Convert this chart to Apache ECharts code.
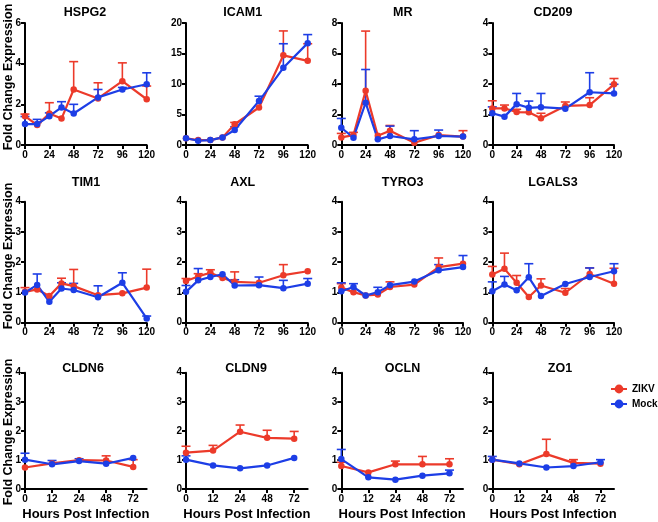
<!DOCTYPE html>
<html><head><meta charset="utf-8">
<script src="https://cdn.jsdelivr.net/npm/echarts@6/dist/echarts.min.js"></script>
<style>html,body{margin:0;padding:0;background:#fff}#c{width:658px;height:522px}</style>
</head><body><div id="c"></div>
<script>
// ---- data ----
const hoursLong = [0, 12, 24, 36, 48, 72, 96, 120];
const hoursShort = ['0', '12', '24', '48', '72'];

const genes = ['HSPG2','ICAM1','MR','CD209','TIM1','AXL','TYRO3','LGALS3','CLDN6','CLDN9','OCLN','ZO1'];
const yMax = [6, 20, 8, 4, 4, 4, 4, 4, 4, 4, 4, 4];
const yStep = [2, 5, 2, 1, 1, 1, 1, 1, 1, 1, 1, 1];
const yTitle = 'Fold Change Expression';
const xTitle = 'Hours Post Infection';
const legendNames = ['ZIKV', 'Mock'];

const HSPG2_zikv = [1.42,0.98,1.55,1.3,2.73,2.29,3.14,2.25];
const HSPG2_zikvErr = [0.1,0.12,0.53,0,1.37,0.77,0.9,0.65];
const HSPG2_mock = [1.03,1.03,1.42,1.85,1.55,2.34,2.73,2.99];
const HSPG2_mockErr = [0.37,0.23,0.16,0.28,0.45,0.39,0.1,0.56];

const ICAM1_zikv = [1.1,0.8,0.8,1.25,3.4,6.15,14.7,13.8];
const ICAM1_zikvErr = [0,0,0,0,0.3,0,4.0,2.8];
const ICAM1_mock = [1.1,0.7,0.8,1.25,2.45,7.2,12.65,16.7];
const ICAM1_mockErr = [0,0,0,0,0.55,0.8,3.95,1.4];

const MR_zikv = [0.5,0.65,3.55,0.6,0.94,0.15,0.65,0.55];
const MR_zikvErr = [0.26,0.18,3.92,0,0.34,0,0,0.39];
const MR_mock = [1.13,0.48,2.77,0.37,0.59,0.37,0.59,0.55];
const MR_mockErr = [0.61,0,2.18,0,0.65,0.57,0.39,0];

const CD209_zikv = [1.2,1.2,1.08,1.07,0.88,1.28,1.31,1.99];
const CD209_zikvErr = [0.25,0.11,0.09,0,0.16,0.13,0.24,0.19];
const CD209_mock = [1.04,0.93,1.34,1.22,1.24,1.19,1.73,1.69];
const CD209_mockErr = [0.21,0,0.35,0.22,0.45,0,0.64,0.3];

const TIM1_zikv = [1.02,1.1,0.88,1.3,1.21,0.91,0.97,1.16];
const TIM1_zikvErr = [0.14,0,0,0.17,0.55,0,0,0.61];
const TIM1_mock = [1.0,1.25,0.69,1.13,1.08,0.84,1.32,0.14];
const TIM1_mockErr = [0,0.36,0,0.19,0.22,0.38,0.33,0.08];

const AXL_zikv = [1.38,1.53,1.65,1.48,1.35,1.32,1.57,1.7];
const AXL_zikvErr = [0.08,0.09,0.1,0,0.33,0,0.35,0];
const AXL_mock = [1.02,1.4,1.51,1.6,1.23,1.24,1.14,1.29];
const AXL_mockErr = [0.21,0.39,0,0,0.19,0.27,0.26,0.17];

const TYRO3_zikv = [1.16,1.01,0.9,0.93,1.18,1.26,1.84,1.95];
const TYRO3_zikvErr = [0.13,0,0,0,0.17,0,0.3,0];
const TYRO3_mock = [1.04,1.18,0.9,1.01,1.24,1.36,1.73,1.84];
const TYRO3_mockErr = [0.28,0.11,0,0.16,0,0,0.19,0.38];

const LGALS3_zikv = [1.59,1.78,1.32,0.85,1.23,0.99,1.61,1.29];
const LGALS3_zikvErr = [0.27,0.52,0.24,0,0.22,0.14,0.2,0.51];
const LGALS3_mock = [1.04,1.26,1.07,1.5,0.88,1.28,1.51,1.7];
const LGALS3_mockErr = [0.31,0.27,0,0.45,0,0,0.3,0.25];

const CLDN6_zikv = [0.74,0.88,0.99,0.98,0.76];
const CLDN6_zikvErr = [0,0,0,0.16,0.25];
const CLDN6_mock = [1.01,0.85,0.96,0.87,1.07];
const CLDN6_mockErr = [0.22,0.13,0.08,0,0];

const CLDN9_zikv = [1.25,1.32,1.97,1.76,1.73];
const CLDN9_zikvErr = [0.22,0.18,0.23,0.26,0.25];
const CLDN9_mock = [1.01,0.81,0.71,0.81,1.07];
const CLDN9_mockErr = [0.13,0,0,0,0];

const OCLN_zikv = [0.79,0.57,0.85,0.85,0.85];
const OCLN_zikvErr = [0.13,0,0.11,0.27,0.19];
const OCLN_mock = [1.03,0.4,0.32,0.46,0.54];
const OCLN_mockErr = [0.33,0,0,0,0.11];

const ZO1_zikv = [1.01,0.85,1.2,0.9,0.87];
const ZO1_zikvErr = [0,0,0.51,0.11,0];
const ZO1_mock = [1.01,0.88,0.74,0.79,0.92];
const ZO1_mockErr = [0.11,0,0,0,0.09];

// significance labels: [x, y, text]
const TIM1_stars = [[120, 1.94, '**']];
const CLDN9_stars = [[1, 1.69, '**'], [2, 2.38, '****'], [3, 2.19, '****'], [4, 2.15, '***']];

const zikv = [HSPG2_zikv,ICAM1_zikv,MR_zikv,CD209_zikv,TIM1_zikv,AXL_zikv,TYRO3_zikv,LGALS3_zikv,CLDN6_zikv,CLDN9_zikv,OCLN_zikv,ZO1_zikv];
const zikvErr = [HSPG2_zikvErr,ICAM1_zikvErr,MR_zikvErr,CD209_zikvErr,TIM1_zikvErr,AXL_zikvErr,TYRO3_zikvErr,LGALS3_zikvErr,CLDN6_zikvErr,CLDN9_zikvErr,OCLN_zikvErr,ZO1_zikvErr];
const mock = [HSPG2_mock,ICAM1_mock,MR_mock,CD209_mock,TIM1_mock,AXL_mock,TYRO3_mock,LGALS3_mock,CLDN6_mock,CLDN9_mock,OCLN_mock,ZO1_mock];
const mockErr = [HSPG2_mockErr,ICAM1_mockErr,MR_mockErr,CD209_mockErr,TIM1_mockErr,AXL_mockErr,TYRO3_mockErr,LGALS3_mockErr,CLDN6_mockErr,CLDN9_mockErr,OCLN_mockErr,ZO1_mockErr];

// ---- layout ----
const RED = '#ec3a2a', BLUE = '#1d3ee6';
const FONT = '"Liberation Sans", Arial, sans-serif';
const colLeft = [25, 186, 341.3, 492.3];
const plotW = 121.7;
const rowTop = [23, 201.7, 372.7];
const rowH = [122, 121, 121.3];
const titleX = [[85, 242.7, 402.7, 553], [86, 242.7, 402.7, 553], [83, 246, 402.5, 560]];
const titleY = [13, 183, 369];

const grids = [], xAxes = [], yAxes = [], series = [], graphics = [];
const axisLine = { show: true, lineStyle: { color: '#000', width: 2 } };
const axisTick = { show: true, length: 4, lineStyle: { color: '#000', width: 2 } };
const labelStyle = { color: '#000', fontWeight: 'bold', fontSize: 10, fontFamily: FONT };

function errItem(color) {
  return function (params, api) {
    const e = api.value(2);
    if (!e) return null;
    const x = api.value(0), y = api.value(1);
    const p0 = api.coord([x, y]);
    const p1 = api.coord([x, y + e]);
    return {
      type: 'group',
      children: [
        { type: 'line', shape: { x1: p0[0], y1: p0[1], x2: p1[0], y2: p1[1] }, style: { stroke: color, lineWidth: 1.6 } },
        { type: 'line', shape: { x1: p1[0] - 4.5, y1: p1[1], x2: p1[0] + 4.5, y2: p1[1] }, style: { stroke: color, lineWidth: 1.6 } }
      ]
    };
  };
}

for (let i = 0; i < 12; i++) {
  const r = Math.floor(i / 4), c = i % 4;
  grids.push({ left: colLeft[c], top: rowTop[r], width: plotW, height: rowH[r], containLabel: false });
  graphics.push({ type: 'text', x: titleX[r][c], y: titleY[r], silent: true,
    style: { text: genes[i], fontSize: 12.5, fontWeight: 'bold', fill: '#000', fontFamily: FONT,
      textAlign: 'center', textVerticalAlign: 'middle' } });
  const longX = r < 2;
  const xs = longX ? hoursLong : hoursShort.map((_, k) => k);
  if (longX) {
    xAxes.push({ type: 'value', gridIndex: i, min: 0, max: 120, interval: 24,
      axisLine, axisTick, splitLine: { show: false },
      axisLabel: Object.assign({ margin: 5 }, labelStyle) });
  } else {
    xAxes.push({ type: 'value', gridIndex: i, min: 0, max: 4.5,
      axisLine, splitLine: { show: false },
      axisTick: Object.assign({ customValues: [0, 1, 2, 3, 4] }, axisTick),
      axisLabel: Object.assign({ margin: 5, customValues: [0, 1, 2, 3, 4], formatter: v => hoursShort[Math.round(v)] }, labelStyle),
      name: xTitle, nameLocation: 'middle', nameGap: 19,
      nameTextStyle: { fontSize: 13, fontWeight: 'bold', color: '#000', fontFamily: FONT } });
  }
  yAxes.push({ type: 'value', gridIndex: i, min: 0, max: yMax[i], interval: yStep[i],
    axisLine, axisTick, splitLine: { show: false },
    axisLabel: Object.assign({ margin: 4 }, labelStyle) });

  series.push({ type: 'custom', xAxisIndex: i, yAxisIndex: i, renderItem: errItem(RED),
    data: xs.map((x, k) => [x, zikv[i][k], zikvErr[i][k]]), encode: { x: 0, y: 1 }, silent: true });
  series.push({ type: 'line', name: legendNames[0], xAxisIndex: i, yAxisIndex: i, data: xs.map((x, k) => [x, zikv[i][k]]),
    symbol: 'circle', symbolSize: 6.5, lineStyle: { color: RED, width: 2.2 }, itemStyle: { color: RED } });
  series.push({ type: 'custom', xAxisIndex: i, yAxisIndex: i, renderItem: errItem(BLUE),
    data: xs.map((x, k) => [x, mock[i][k], mockErr[i][k]]), encode: { x: 0, y: 1 }, silent: true });
  series.push({ type: 'line', name: legendNames[1], xAxisIndex: i, yAxisIndex: i, data: xs.map((x, k) => [x, mock[i][k]]),
    symbol: 'circle', symbolSize: 6.5, lineStyle: { color: BLUE, width: 2.2 }, itemStyle: { color: BLUE } });
}

function starSeries(idx, stars) {
  return { type: 'scatter', xAxisIndex: idx, yAxisIndex: idx, symbolSize: 1,
    itemStyle: { opacity: 0 },
    data: stars.map(s => ({ value: [s[0], s[1]], label: { formatter: s[2] } })),
    label: { show: true, position: 'inside', color: '#222', fontSize: 9, fontWeight: 'bold', fontFamily: FONT } };
}
series.push(starSeries(4, TIM1_stars));
series.push(starSeries(9, CLDN9_stars));

const rowCenters = [77, 256, 432];
rowCenters.forEach(cy => graphics.push({ type: 'text', x: 9, y: cy, rotation: Math.PI / 2, silent: true,
  style: { text: yTitle, fontSize: 12.5, fontWeight: 'bold', fill: '#000', fontFamily: FONT,
    textAlign: 'center', textVerticalAlign: 'middle' } }));

const chart = echarts.init(document.getElementById('c'), null, { renderer: 'canvas' });
chart.setOption({
  animation: false,
  grid: grids, xAxis: xAxes, yAxis: yAxes, series,
  graphic: graphics,
  legend: { data: legendNames, orient: 'vertical', left: 610, top: 384, itemGap: 5, padding: 0,
    itemWidth: 16, itemHeight: 11, textStyle: { fontSize: 10, fontWeight: 'bold', color: '#000', fontFamily: FONT } }
});
</script></body></html>
